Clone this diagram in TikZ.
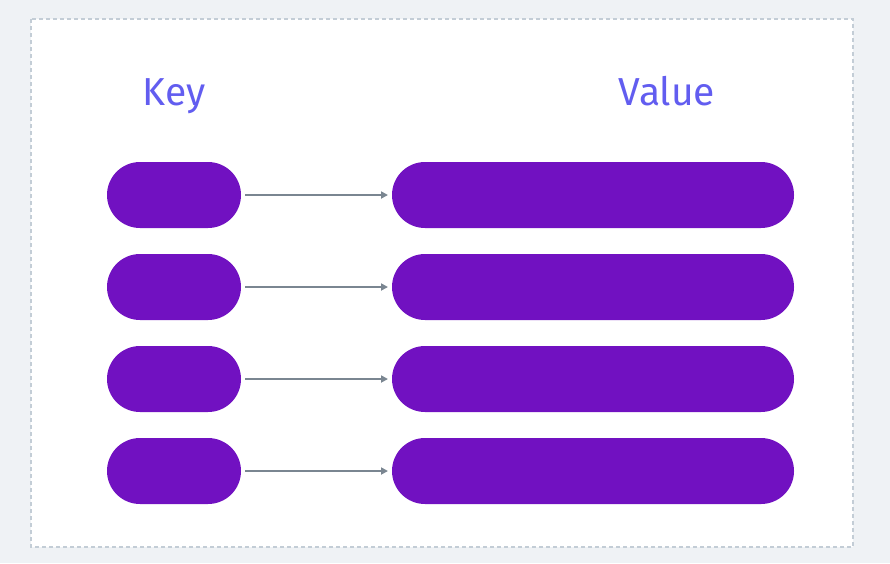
\documentclass[tikz,border=0pt]{standalone}
\usepackage{fontspec}
\setmainfont{Fira Sans}
\usetikzlibrary{arrows.meta,shapes.misc}
\definecolor{bg}{HTML}{EFF2F5}
\definecolor{frameline}{HTML}{C3CDD6}
\definecolor{pill}{HTML}{7111C1}
\definecolor{label}{HTML}{625DF0}
\definecolor{arrowc}{HTML}{7A8691}
\begin{document}
\begin{tikzpicture}[x=1pt,y=-1pt,
  pillbox/.style={fill=pill,rounded rectangle,minimum height=66pt,inner sep=0pt,outer sep=0pt},
  keypill/.style={pillbox,minimum width=134pt},
  valpill/.style={pillbox,minimum width=402pt},
  header/.style={text=label,font=\fontsize{39}{42}\selectfont,anchor=base},
  conn/.style={draw=arrowc,line width=2.2pt,-{Triangle[length=7pt,width=7pt]},shorten <=4pt,shorten >=4pt}]
\fill[bg] (0,0) rectangle (890,563);
\useasboundingbox (0,0) rectangle (890,563);
\draw[fill=white,draw=frameline,line width=1.2pt,dash pattern=on 4pt off 3pt] (31,19) rectangle (853,547);
\node[header] (hk) at (174,105) {Key};
\node[header] (hv) at (667,105) {Value};
\foreach \i/\y in {1/195,2/287,3/379,4/471}{
  \node[keypill] (k\i) at (174,\y) {};
  \node[valpill] (v\i) at (593,\y) {};
  \draw[conn] (k\i.east) -- (v\i.west);
}
\end{tikzpicture}
\end{document}
